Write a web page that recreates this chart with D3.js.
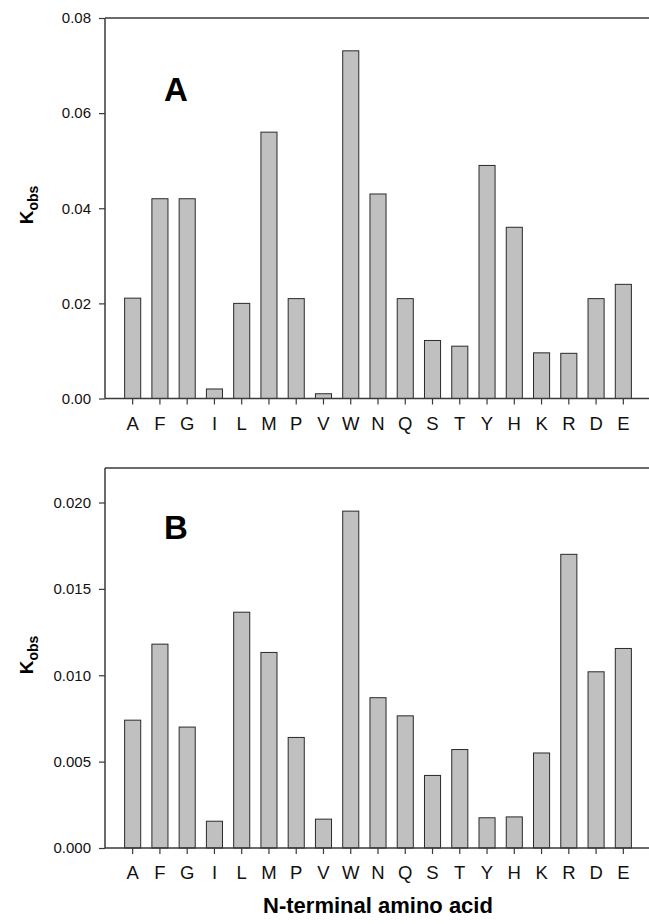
<!DOCTYPE html>
<html><head><meta charset="utf-8">
<script src="https://cdn.jsdelivr.net/npm/d3@7"></script>
<style>body{margin:0;background:#fff}svg{display:block}</style>
</head><body>
<svg id="c" width="649" height="924"></svg>
<script>
const cats = ["A","F","G","I","L","M","P","V","W","N","Q","S","T","Y","H","K","R","D","E"];
const valuesA = [0.0211,0.0420,0.0420,0.0020,0.0200,0.0560,0.0210,0.0010,0.0731,0.0430,0.0210,0.0122,0.0110,0.0490,0.0360,0.0096,0.0095,0.0210,0.0240];
const valuesB = [0.0074,0.0118,0.0070,0.00155,0.01365,0.01132,0.0064,0.00167,0.0195,0.0087,0.00765,0.0042,0.0057,0.00175,0.0018,0.0055,0.0170,0.0102,0.01155];
const ticksA = [0,0.02,0.04,0.06,0.08];
const ticksB = [0,0.005,0.010,0.015,0.020];
const panelLabels = ["A","B"];
const xTitle = "N-terminal amino acid";

const svg = d3.select("#c");
const FONT = "Liberation Sans, Arial, Helvetica, sans-serif";
const axisColor = "#3a3a3a";

const x = d3.scaleBand().domain(cats).range([105, 651]).paddingInner(0.41).paddingOuter(0.72);

function panel(vals, ticks, yTop, yBottom, domainMax, topVal, fmt, label, labelPos, yLabelCenter) {
  const y = d3.scaleLinear().domain([0, domainMax]).range([yBottom, yTop]);
  const g = svg.append("g");
  g.selectAll("rect.bar").data(vals).join("rect")
    .attr("class", "bar")
    .attr("x", (d,i) => x(cats[i]))
    .attr("y", d => y(d))
    .attr("width", x.bandwidth())
    .attr("height", d => y(0) - y(d))
    .attr("fill", "#c0c0c0")
    .attr("stroke", "#2a2a2a")
    .attr("stroke-width", 1);
  g.append("line").attr("x1", 105).attr("x2", 649)
    .attr("y1", y(topVal)).attr("y2", y(topVal))
    .attr("stroke", axisColor).attr("stroke-width", 1.5);
  const ya = d3.axisLeft(y).tickValues(ticks).tickFormat(fmt).tickSize(6).tickPadding(8);
  const yg = g.append("g").attr("transform", "translate(105,0)").call(ya);
  yg.select(".domain").remove();
  yg.append("line").attr("x1",0).attr("x2",0).attr("y1", y(topVal)).attr("y2", y(0))
    .attr("stroke", axisColor).attr("stroke-width", 1.5);
  yg.selectAll(".tick line").attr("stroke", axisColor).attr("stroke-width", 1.2);
  yg.selectAll("text").attr("font-family", FONT).attr("font-size", 15).attr("fill", "#111");
  const xa = d3.axisBottom(x).tickSize(6).tickPadding(12);
  const xg = g.append("g").attr("transform", `translate(0,${y(0)})`).call(xa);
  xg.select(".domain").remove();
  xg.append("line").attr("x1",105).attr("x2",649).attr("y1",0).attr("y2",0)
    .attr("stroke", axisColor).attr("stroke-width", 1.5);
  xg.selectAll(".tick line").attr("stroke", axisColor).attr("stroke-width", 1.2);
  xg.selectAll("text").attr("font-family", FONT).attr("font-size", 18.5).attr("fill", "#111");
  g.append("text").attr("x", labelPos[0]).attr("y", labelPos[1])
    .attr("text-anchor", "middle").attr("font-family", FONT).attr("font-weight", "bold")
    .attr("font-size", 33).attr("fill", "#000").text(label);
  const t = g.append("text").attr("transform", `translate(33,${yLabelCenter}) rotate(-90)`)
    .attr("text-anchor", "middle").attr("font-family", FONT).attr("font-weight", "bold")
    .attr("fill", "#000");
  t.append("tspan").attr("font-size", 19).text("K");
  t.append("tspan").attr("font-size", 14).attr("dy", 4.5).text("obs");
}

panel(valuesA, ticksA, 18, 398.5, 0.08, 0.08, d3.format(".2f"), panelLabels[0], [176, 101], 205);
panel(valuesB, ticksB, 502.5, 848, 0.020, 0.022, d3.format(".3f"), panelLabels[1], [176, 539], 655);

svg.append("text").attr("x", 378).attr("y", 913).attr("text-anchor", "middle")
  .attr("font-family", FONT).attr("font-weight", "bold").attr("font-size", 22)
  .attr("fill", "#000").text(xTitle);
</script>
</body></html>
